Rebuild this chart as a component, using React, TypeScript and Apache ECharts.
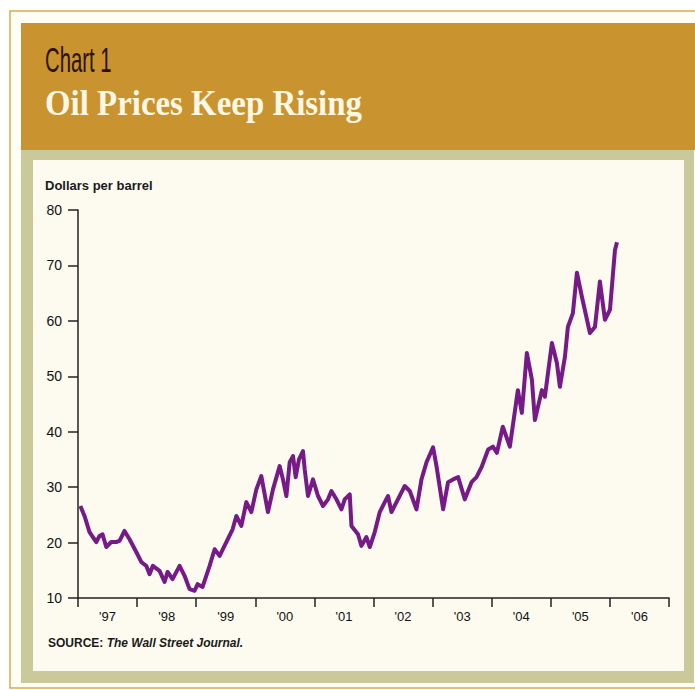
import React, { useEffect, useRef } from "react";
import * as echarts from "echarts";

const yearLabels = ["'97", "'98", "'99", "'00", "'01", "'02", "'03", "'04", "'05", "'06"];
const yTicks = [10, 20, 30, 40, 50, 60, 70, 80];

const dates = [
  1997.04, 1997.11, 1997.195, 1997.25, 1997.31, 1997.364, 1997.415, 1997.478, 1997.562, 1997.647,
  1997.703, 1997.787, 1997.872, 1997.986, 1998.07, 1998.155, 1998.211, 1998.267, 1998.38, 1998.465,
  1998.516, 1998.6, 1998.719, 1998.803, 1998.888, 1998.973, 1999.024, 1999.108, 1999.227, 1999.312,
  1999.396, 1999.51, 1999.616, 1999.679, 1999.764, 1999.848, 1999.933, 2000.018, 2000.102, 2000.214,
  2000.299, 2000.412, 2000.468, 2000.526, 2000.582, 2000.638, 2000.683, 2000.739, 2000.807, 2000.836,
  2000.892, 2000.976, 2001.061, 2001.146, 2001.23, 2001.288, 2001.373, 2001.457, 2001.513, 2001.598,
  2001.627, 2001.738, 2001.796, 2001.88, 2001.937, 2002.021, 2002.106, 2002.191, 2002.246, 2002.304,
  2002.389, 2002.529, 2002.614, 2002.727, 2002.812, 2002.897, 2003.008, 2003.066, 2003.178, 2003.262,
  2003.347, 2003.432, 2003.545, 2003.659, 2003.743, 2003.828, 2003.94, 2004.02, 2004.088, 2004.188,
  2004.307, 2004.443, 2004.51, 2004.595, 2004.68, 2004.731, 2004.849, 2004.9, 2005.019, 2005.103,
  2005.154, 2005.239, 2005.289, 2005.374, 2005.442, 2005.527, 2005.662, 2005.747, 2005.831, 2005.916,
  2006.001, 2006.086, 2006.12,
];
const prices = [
  26.6, 24.8, 21.9, 21.0, 20.1, 21.2, 21.5, 19.2, 20.1, 20.1,
  20.3, 22.1, 20.6, 18.3, 16.5, 15.8, 14.3, 15.8, 14.9, 12.9,
  14.7, 13.4, 15.8, 14.0, 11.6, 11.3, 12.5, 12.0, 15.8, 18.8,
  17.6, 20.1, 22.4, 24.8, 23.0, 27.3, 25.5, 29.6, 32.0, 25.5,
  29.6, 33.8, 31.4, 28.4, 34.5, 35.6, 31.8, 35.0, 36.5, 33.2,
  28.4, 31.4, 28.4, 26.6, 27.8, 29.3, 27.8, 26.0, 27.8, 28.7,
  23.0, 21.5, 19.4, 21.0, 19.2, 21.9, 25.5, 27.3, 28.4, 25.5,
  27.3, 30.2, 29.3, 26.0, 31.4, 34.5, 37.2, 33.8, 26.0, 30.9,
  31.4, 31.8, 27.8, 30.9, 31.8, 33.6, 36.8, 37.3, 36.2, 40.9,
  37.3, 47.5, 43.4, 54.2, 49.4, 42.1, 47.5, 46.3, 56.0, 52.4,
  48.1, 53.5, 58.9, 61.4, 68.7, 64.3, 57.8, 58.9, 67.1, 60.2,
  62.0, 72.8, 74.2,
];

export default function App() {
  const ref = useRef<HTMLDivElement>(null);
  useEffect(() => {
    if (!ref.current) return;
    const chart = echarts.init(ref.current, null, { renderer: "svg" });
    const seriesData = dates.map((d, i) => [d, prices[i]]);
    chart.setOption({
      animation: false,
      backgroundColor: "#ffffff",
      graphic: [
        { type: "rect", z: -100, shape: { x: 10, y: 11, width: 690, height: 677 }, style: { fill: "#fffdf4", stroke: "#dcaa4c", lineWidth: 1.5 } },
        { type: "rect", z: -90, shape: { x: 21, y: 23, width: 674, height: 127 }, style: { fill: "#c9932f" } },
        { type: "rect", z: -90, shape: { x: 21, y: 150, width: 673, height: 533 }, style: { fill: "#c9c99c" } },
        { type: "rect", z: -80, shape: { x: 33, y: 160, width: 651, height: 511 }, style: { fill: "#fdfbef" } },
        {
          type: "text", z: 10, x: 45, y: 60, scaleX: 0.58,
          style: { text: "Chart 1", fill: "#2b1206", font: "normal 35px 'Liberation Sans', Arial, sans-serif", verticalAlign: "middle", align: "left" },
        },
        {
          type: "text", z: 10, x: 45, y: 103, scaleX: 0.94,
          style: { text: "Oil Prices Keep Rising", fill: "#fff8e4", font: "bold 35px 'Liberation Serif', 'Times New Roman', serif", verticalAlign: "middle", align: "left" },
        },
        {
          type: "text", z: 10, x: 45, y: 185,
          style: { text: "Dollars per barrel", fill: "#1a1a1a", font: "bold 13px 'Liberation Sans', Arial, sans-serif", verticalAlign: "middle", align: "left" },
        },
        {
          type: "text", z: 10, x: 48, y: 643,
          style: {
            text: "{a|SOURCE: }{b|The Wall Street Journal.}",
            verticalAlign: "middle", align: "left",
            rich: {
              a: { fill: "#1a1a1a", fontFamily: "'Liberation Sans', Arial, sans-serif", fontWeight: "bold", fontSize: 12 },
              b: { fill: "#1a1a1a", fontFamily: "'Liberation Sans', Arial, sans-serif", fontWeight: "bold", fontStyle: "italic", fontSize: 12 },
            },
          },
        },
      ],
      grid: { left: 78, right: 26, top: 210, bottom: 92, containLabel: false },
      xAxis: [
        { type: "value", min: 1997, max: 2007, show: false },
        {
          type: "category", data: yearLabels, boundaryGap: true, position: "bottom",
          axisLine: { show: true, lineStyle: { color: "#222", width: 1.5 } },
          axisTick: { show: true, length: 9, interval: 0, lineStyle: { color: "#222", width: 1.5 } },
          axisLabel: { interval: 0, margin: 12, color: "#111", fontSize: 13, fontFamily: "'Liberation Sans', Arial, sans-serif" },
          splitLine: { show: false },
        },
      ],
      yAxis: {
        type: "value", min: 10, max: 80, interval: 10,
        axisLine: { show: true, lineStyle: { color: "#222", width: 1.5 } },
        axisTick: { show: true, length: 10, lineStyle: { color: "#222", width: 1.5 } },
        axisLabel: { margin: 16, color: "#111", fontSize: 14, fontFamily: "'Liberation Sans', Arial, sans-serif", formatter: (v: number) => (yTicks.includes(v) ? String(v) : "") },
        splitLine: { show: false },
      },
      series: [
        {
          type: "line", xAxisIndex: 0, data: seriesData, showSymbol: false, symbol: "none",
          lineStyle: { color: "#761a88", width: 4, join: "round" }, z: 5,
        },
      ],
    });
    return () => chart.dispose();
  }, []);
  return <div ref={ref} style={{ position: "fixed", left: 0, top: 0, width: 695, height: 690 }} />;
}
